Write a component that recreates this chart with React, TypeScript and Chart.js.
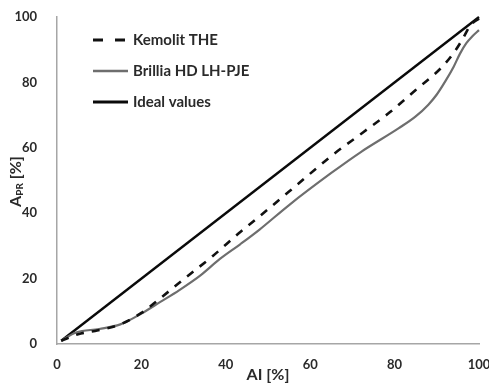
import React, { useEffect, useRef } from "react";
import { Chart, registerables } from "chart.js";

Chart.register(...registerables);

// ---- data ----
const seriesLabels = ["Kemolit THE", "Brillia HD LH-PJE", "Ideal values"];
const xTickValues = [0, 20, 40, 60, 80, 100];
const yTickValues = [0, 20, 40, 60, 80, 100];

const kemolitX = [1, 5, 9, 15, 20, 24, 30, 37, 43, 47, 56, 65, 72.5, 79, 85, 91, 94, 96, 98, 100];
const kemolitY = [1, 3, 4, 6, 9.5, 13.5, 19.8, 27, 33.8, 38, 47.7, 57.5, 64.7, 71, 77.7, 84.4, 89, 93, 97.5, 99.5];

const brilliaX = [1, 4.5, 10, 15, 20, 24.4, 29, 34, 38.6, 43.4, 48, 55, 65, 72, 81, 85, 88, 90, 92, 94, 95.5, 97, 98.5, 100];
const brilliaY = [1, 3.5, 4.6, 6, 9.3, 12.8, 16.5, 21, 26, 30.5, 35, 42.5, 52.3, 58.7, 66, 69.6, 73.2, 76.3, 80.3, 84.8, 88.8, 92, 94.2, 96];

const idealX = [1, 100];
const idealY = [1, 100];

const xTitle = "AI [%]";
const yTitleMain = "A";
const yTitleSub = "PR";
const yTitleRest = " [%]";

const FONT = "Lato, 'Liberation Sans', Arial, sans-serif";
const TEXT = "#2a2a2a";
const AXIS = "#a6a6a6";

const zip = (xs: number[], ys: number[]) => xs.map((x, i) => ({ x, y: ys[i] }));

const decorPlugin = {
  id: "decor",
  afterDraw(chart: any) {
    const ctx = chart.ctx as CanvasRenderingContext2D;
    const area = chart.chartArea;
    const ds = chart.data.datasets;
    ctx.save();
    // legend
    const rowOffsets = [23, 54, 85];
    ds.forEach((d: any, i: number) => {
      const y = area.top + rowOffsets[i];
      const x0 = area.left + 36;
      ctx.beginPath();
      ctx.setLineDash(i === 0 ? [10, 12] : []);
      ctx.lineWidth = i === 1 ? 2.5 : 3;
      ctx.strokeStyle = d.borderColor;
      ctx.moveTo(x0, y);
      ctx.lineTo(x0 + 35, y);
      ctx.stroke();
      ctx.setLineDash([]);
      ctx.fillStyle = TEXT;
      ctx.font = "bold 15px " + FONT;
      ctx.textBaseline = "middle";
      ctx.textAlign = "left";
      ctx.fillText(d.label, x0 + 40, y);
    });
    // y title with subscript
    const cy = (area.top + area.bottom) / 2 + 1;
    ctx.translate(16, cy);
    ctx.rotate(-Math.PI / 2);
    const big = "bold 16px " + FONT;
    const small = "bold 10px " + FONT;
    ctx.font = big;
    const w1 = ctx.measureText(yTitleMain).width;
    const w3 = ctx.measureText(yTitleRest).width;
    ctx.font = small;
    const w2 = ctx.measureText(yTitleSub).width;
    const total = w1 + w2 + w3;
    let x = -total / 2;
    ctx.fillStyle = TEXT;
    ctx.textAlign = "left";
    ctx.textBaseline = "alphabetic";
    ctx.font = big;
    ctx.fillText(yTitleMain, x, 5);
    x += w1;
    ctx.font = small;
    ctx.fillText(yTitleSub, x, 7);
    x += w2;
    ctx.font = big;
    ctx.fillText(yTitleRest, x, 5);
    ctx.restore();
  },
};

export default function App() {
  const ref = useRef<HTMLCanvasElement | null>(null);
  useEffect(() => {
    if (!ref.current) return;
    const chart = new Chart(ref.current, {
      type: "line",
      data: {
        datasets: [
          {
            label: seriesLabels[0],
            data: zip(kemolitX, kemolitY),
            borderColor: "#111111",
            borderWidth: 2.6,
            borderDash: [8, 8],
            pointRadius: 0,
            cubicInterpolationMode: "monotone",
            fill: false,
          },
          {
            label: seriesLabels[1],
            data: zip(brilliaX, brilliaY),
            borderColor: "#6e6e6e",
            borderWidth: 2.2,
            pointRadius: 0,
            cubicInterpolationMode: "monotone",
            fill: false,
          },
          {
            label: seriesLabels[2],
            data: zip(idealX, idealY),
            borderColor: "#0a0a0a",
            borderWidth: 2.4,
            pointRadius: 0,
            fill: false,
          },
        ],
      },
      options: {
        responsive: false,
        animation: false,
        clip: false as any,
        layout: { padding: { top: 17, right: 10, left: 0, bottom: 0 } },
        plugins: {
          legend: { display: false },
          tooltip: { enabled: false },
        },
        scales: {
          x: {
            type: "linear",
            min: 0,
            max: 100,
            afterBuildTicks: (s: any) => {
              s.ticks = xTickValues.map((v) => ({ value: v }));
            },
            afterFit: (s: any) => {
              s.height = 48;
              s.paddingLeft = 0;
              s.paddingRight = 0;
            },
            grid: { display: false },
            border: { display: true, color: AXIS, width: 1.5 },
            ticks: {
              padding: 5,
              color: TEXT,
              font: { family: FONT, size: 13, weight: "bold" },
              maxRotation: 0,
            },
            title: {
              display: true,
              text: xTitle,
              color: TEXT,
              font: { family: FONT, size: 16, weight: "bold" },
              padding: { top: 0, bottom: 8 },
            },
          },
          y: {
            type: "linear",
            min: 0,
            max: 100,
            afterBuildTicks: (s: any) => {
              s.ticks = yTickValues.map((v) => ({ value: v }));
            },
            afterFit: (s: any) => {
              s.width = 57;
              s.paddingTop = 0;
              s.paddingBottom = 0;
            },
            grid: { display: false },
            border: { display: true, color: AXIS, width: 1.5 },
            ticks: {
              padding: 12,
              color: TEXT,
              font: { family: FONT, size: 13, weight: "bold" },
            },
          },
        },
      },
      plugins: [decorPlugin],
    } as any);
    return () => chart.destroy();
  }, []);
  return (
    <div style={{ position: "fixed", left: 0, top: 0, width: 489, height: 392, background: "#fff" }}>
      <canvas ref={ref} width={489} height={392} style={{ display: "block" }} />
    </div>
  );
}
